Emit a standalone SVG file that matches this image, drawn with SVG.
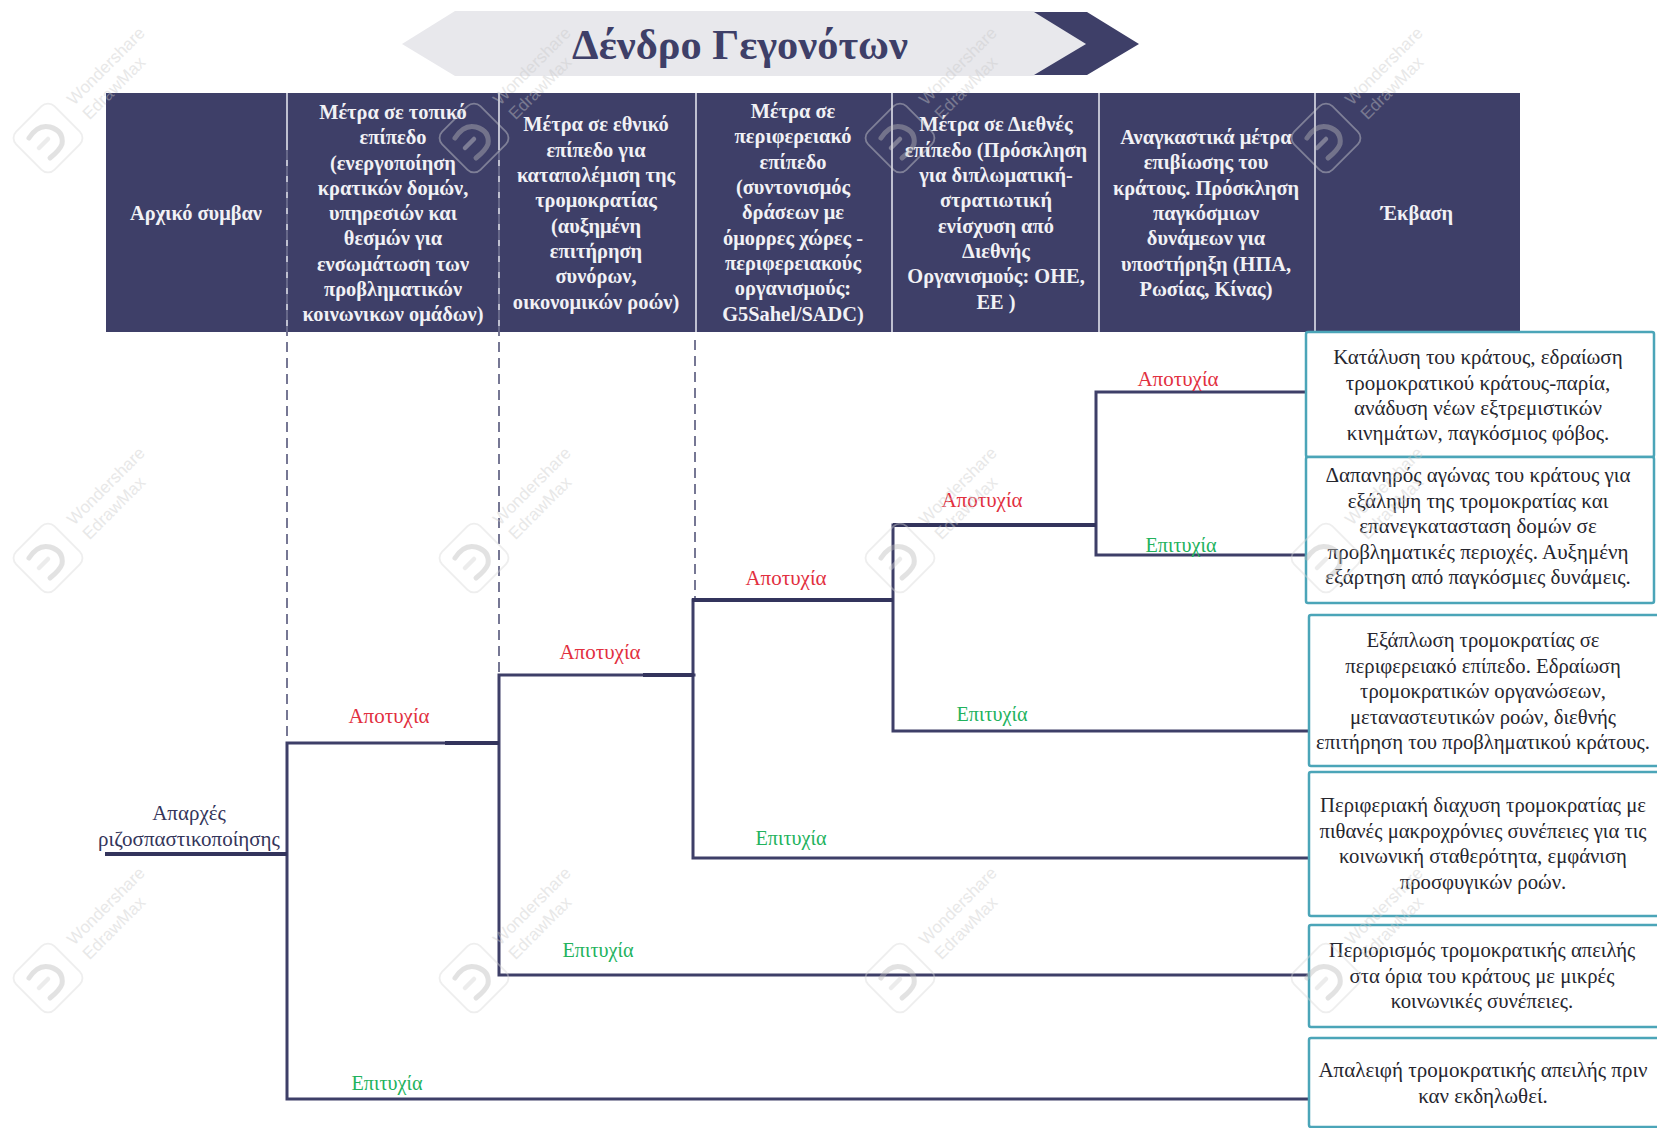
<svg xmlns="http://www.w3.org/2000/svg" xmlns:xlink="http://www.w3.org/1999/xlink" width="1657" height="1128" viewBox="0 0 1657 1128">
<style>
text{font-family:"Liberation Serif","Times New Roman",serif;text-anchor:middle}
.h{font-size:20.4px;font-weight:bold;fill:#f1f1f5}
.b{font-size:21px;fill:#26262e}
.c{font-size:20.7px;fill:#26262e}
.r{font-size:21px;fill:#e2303f}
.g{font-size:20.2px;fill:#22b25c}
.o{font-size:21px;fill:#34355a}
.box{fill:#fff;stroke:#4ba5b8;stroke-width:2.5}
.div{stroke:#dfe0ea;stroke-width:1.6;fill:none}
.dash{stroke:#4a4b72;stroke-width:1.5;stroke-dasharray:10 6;fill:none}
.l{stroke:#3e3f68;stroke-width:3;fill:none;stroke-linecap:square}
.t{stroke:#33345c;stroke-width:4.2;fill:none}
.wt{font-family:"Liberation Sans",Arial,sans-serif;font-size:17px;fill:#c9c9c9;text-anchor:middle}
</style>
<defs>
<g id="wm" opacity="0.42">
<rect x="-27" y="-27" width="54" height="54" rx="9" transform="translate(48,138) rotate(-45)" fill="none" stroke="#d8d8d8" stroke-width="1.8"/>
<path d="M29 138 Q38 124 50 127 Q64 131 62 144 Q60 150 50 158" fill="none" stroke="#bcbcbc" stroke-width="5" stroke-linecap="round"/>
<path d="M39 148 L48 139" fill="none" stroke="#d4d4d4" stroke-width="4.5" stroke-linecap="round"/>
<text class="wt" transform="translate(110,70) rotate(-45)">Wondershare</text>
<text class="wt" transform="translate(118,92) rotate(-45)">EdrawMax</text>
</g>
</defs>
<rect width="1657" height="1128" fill="#fff"/>

<g id="title">
<polygon points="402,44 455,11 1034,11 1086,44 1034,76 455,76" fill="#e8e8ec"/>
<polygon points="1034,12 1087,12 1139,44 1087,75 1034,75 1086,44" fill="#3e3f68"/>
<text x="740" y="59" font-size="42.4" font-weight="bold" fill="#3e3f68">Δένδρο Γεγονότων</text>
</g>

<g id="header">
<rect x="106" y="93" width="1414" height="239" fill="#3e3f68"/>
<path class="div" d="M287 93V332M499 93V332M696 93V332M892 93V332M1099 93V332M1315 93V332"/>
<g id="h1"><text class="h" x="196" y="220">Αρχικό συμβαν</text></g>
<g id="h2">
<text class="h" x="393" y="119">Μέτρα σε τοπικό</text>
<text class="h" x="393" y="144">επίπεδο</text>
<text class="h" x="393" y="170">(ενεργοποίηση</text>
<text class="h" x="393" y="195">κρατικών δομών,</text>
<text class="h" x="393" y="220">υπηρεσιών και</text>
<text class="h" x="393" y="245">θεσμών για</text>
<text class="h" x="393" y="271">ενσωμάτωση των</text>
<text class="h" x="393" y="296">προβληματικών</text>
<text class="h" x="393" y="321">κοινωνικων ομάδων)</text>
</g>
<g id="h3">
<text class="h" x="596" y="131">Μέτρα σε εθνικό</text>
<text class="h" x="596" y="157">επίπεδο για</text>
<text class="h" x="596" y="182">καταπολέμιση της</text>
<text class="h" x="596" y="207">τρομοκρατίας</text>
<text class="h" x="596" y="233">(αυξημένη</text>
<text class="h" x="596" y="258">επιτήρηση</text>
<text class="h" x="596" y="283">συνόρων,</text>
<text class="h" x="596" y="309">οικονομικών ροών)</text>
</g>
<g id="h4">
<text class="h" x="793" y="118">Μέτρα σε</text>
<text class="h" x="793" y="143">περιφερειακό</text>
<text class="h" x="793" y="169">επίπεδο</text>
<text class="h" x="793" y="194">(συντονισμός</text>
<text class="h" x="793" y="219">δράσεων με</text>
<text class="h" x="793" y="245">όμορρες χώρες -</text>
<text class="h" x="793" y="270">περιφερειακούς</text>
<text class="h" x="793" y="295">οργανισμούς:</text>
<text class="h" x="793" y="321">G5Sahel/SADC)</text>
</g>
<g id="h5">
<text class="h" x="996" y="131">Μέτρα σε Διεθνές</text>
<text class="h" x="996" y="157">επίπεδο (Πρόσκληση</text>
<text class="h" x="996" y="182">για διπλωματική-</text>
<text class="h" x="996" y="207">στρατιωτική</text>
<text class="h" x="996" y="233">ενίσχυση από</text>
<text class="h" x="996" y="258">Διεθνής</text>
<text class="h" x="996" y="283">Οργανισμούς: ΟΗΕ,</text>
<text class="h" x="996" y="309">ΕΕ )</text>
</g>
<g id="h6">
<text class="h" x="1206" y="144">Αναγκαστικά μέτρα</text>
<text class="h" x="1206" y="169">επιβίωσης του</text>
<text class="h" x="1206" y="195">κράτους. Πρόσκληση</text>
<text class="h" x="1206" y="220">παγκόσμιων</text>
<text class="h" x="1206" y="245">δυνάμεων για</text>
<text class="h" x="1206" y="271">υποστήρηξη (ΗΠΑ,</text>
<text class="h" x="1206" y="296">Ρωσίας, Κίνας)</text>
</g>
<g id="h7"><text class="h" x="1417" y="220">Έκβαση</text></g>
</g>

<g id="connectors">
<path class="dash" d="M287 150V742M499 150V673M695 340V600"/>
<path class="l" d="M287 743V1099H1309M287 743H499M499 675V975H1309M499 675H694M693 600V858H1309M893 525V731H1309M1096 392V555H1305M1096 392H1304"/>
<path class="t" d="M105 854H287M445 743H499M643 675H694M692 600H893M893 525H1096"/>
</g>

<g id="initial"><text class="o" x="189" y="820">Απαρχές</text><text class="o" x="189" y="846">ριζοσπαστικοποίησης</text></g>
<g id="labels">
<text class="r" x="389" y="723">Αποτυχία</text>
<text class="r" x="600" y="659">Αποτυχία</text>
<text class="r" x="786" y="585">Αποτυχία</text>
<text class="r" x="982" y="507">Αποτυχία</text>
<text class="r" x="1178" y="386">Αποτυχία</text>
<text class="g" x="1181" y="552">Επιτυχία</text>
<text class="g" x="992" y="721">Επιτυχία</text>
<text class="g" x="791" y="845">Επιτυχία</text>
<text class="g" x="598" y="957">Επιτυχία</text>
<text class="g" x="387" y="1090">Επιτυχία</text>
</g>

<g id="out1"><rect class="box" x="1306" y="332" width="348" height="125" rx="2"/>
<text class="b" x="1478" y="364">Κατάλυση του κράτους, εδραίωση</text>
<text class="b" x="1478" y="390">τρομοκρατικού κράτους-παρία,</text>
<text class="b" x="1478" y="415">ανάδυση νέων εξτρεμιστικών</text>
<text class="b" x="1478" y="440">κινημάτων, παγκόσμιος φόβος.</text></g>
<g id="out2"><rect class="box" x="1306" y="457" width="348" height="146" rx="2"/>
<text class="b" x="1478" y="482">Δαπανηρός αγώνας του κράτους για</text>
<text class="b" x="1478" y="508">εξάληψη της τρομοκρατίας και</text>
<text class="b" x="1478" y="533">επανεγκατασταση δομών σε</text>
<text class="b" x="1478" y="559">προβληματικές περιοχές. Αυξημένη</text>
<text class="b" x="1478" y="584">εξάρτηση από παγκόσμιες δυνάμεις.</text></g>
<g id="out3"><rect class="box" x="1309" y="615" width="352" height="151" rx="2"/>
<text class="c" x="1483" y="647">Εξάπλωση τρομοκρατίας σε</text>
<text class="c" x="1483" y="673">περιφερειακό επίπεδο. Εδραίωση</text>
<text class="c" x="1483" y="698">τρομοκρατικών οργανώσεων,</text>
<text class="c" x="1483" y="724">μεταναστευτικών ροών, διεθνής</text>
<text class="c" x="1483" y="749">επιτήρηση του προβληματικού κράτους.</text></g>
<g id="out4"><rect class="box" x="1309" y="772" width="352" height="144" rx="2"/>
<text class="c" x="1483" y="812">Περιφεριακή διαχυση τρομοκρατίας με</text>
<text class="c" x="1483" y="838">πιθανές μακροχρόνιες συνέπειες για τις</text>
<text class="c" x="1483" y="863">κοινωνική σταθερότητα, εμφάνιση</text>
<text class="c" x="1483" y="889">προσφυγικών ροών.</text></g>
<g id="out5"><rect class="box" x="1309" y="925" width="352" height="102" rx="2"/>
<text class="c" x="1482" y="957">Περιορισμός τρομοκρατικής απειλής</text>
<text class="c" x="1482" y="983">στα όρια του κράτους με μικρές</text>
<text class="c" x="1482" y="1008">κοινωνικές συνέπειες.</text></g>
<g id="out6"><rect class="box" x="1309" y="1038" width="352" height="89" rx="2"/>
<text class="b" x="1483" y="1077">Απαλειφή τρομοκρατικής απειλής πριν</text>
<text class="b" x="1483" y="1103">καν εκδηλωθεί.</text></g>

<g id="watermarks">
<use href="#wm"/><use href="#wm" x="426"/><use href="#wm" x="852"/><use href="#wm" x="1278"/>
<use href="#wm" y="420"/><use href="#wm" x="426" y="420"/><use href="#wm" x="852" y="420"/><use href="#wm" x="1278" y="420"/>
<use href="#wm" y="840"/><use href="#wm" x="426" y="840"/><use href="#wm" x="852" y="840"/><use href="#wm" x="1278" y="840"/>
</g>
</svg>
